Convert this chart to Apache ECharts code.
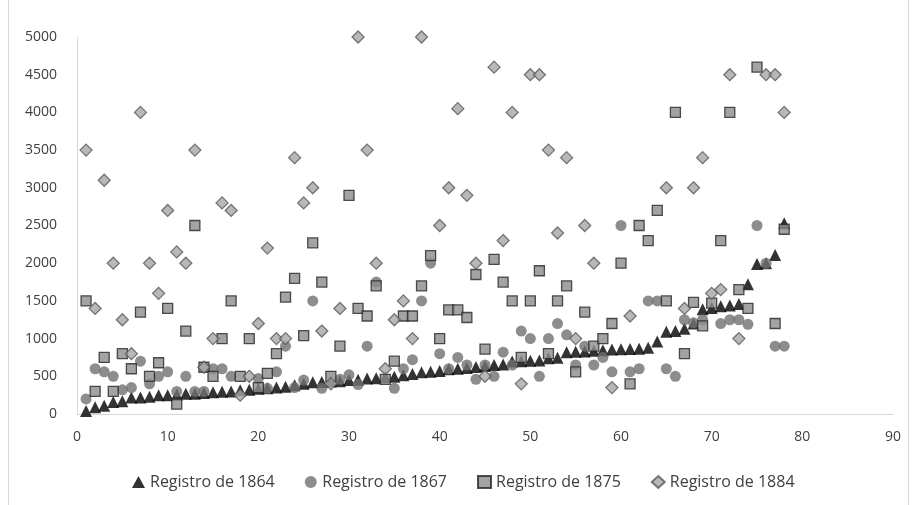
<!DOCTYPE html>
<html>
<head>
<meta charset="utf-8">
<script src="https://cdn.jsdelivr.net/npm/echarts@6/dist/echarts.min.js"></script>
<style>html,body{margin:0;padding:0;background:#fff}#c{width:917px;height:505px}</style>
</head>
<body>
<div id="c"></div>
<script>
// Registro index (x = position 1..78)
const seriesNames = ['Registro de 1864', 'Registro de 1867', 'Registro de 1875', 'Registro de 1884'];

const reg1864 = [40,90,110,160,170,220,220,230,250,250,
  255,270,270,280,290,295,300,315,320,335,
  340,350,360,380,400,420,425,430,435,450,
  455,470,475,490,495,515,530,555,560,570,
  595,600,610,625,635,650,655,695,700,705,
  710,740,745,820,825,830,840,845,855,860,
  862,865,880,960,1090,1100,1130,1200,1390,1405,
  1430,1440,1460,1720,1990,2000,2110,2530];

const reg1867 = [200,600,560,500,320,350,700,400,500,560,
  300,500,300,300,600,600,500,null,null,470,
  340,560,900,350,450,1500,340,null,460,520,
  390,900,1750,null,340,600,720,1500,2000,800,
  600,750,650,460,650,500,820,650,1100,1000,
  500,1000,1200,1050,650,900,650,750,560,2500,
  560,600,1500,1500,600,500,1250,1210,1250,null,
  1200,1250,1250,1190,2500,2000,900,900];

const reg1875 = [1500,300,750,300,800,600,1350,500,680,1400,
  130,1100,2500,620,500,1000,1500,500,1000,350,
  540,800,1550,1800,1040,2270,1750,500,900,2900,
  1400,1300,1700,460,700,1300,1300,1700,2100,1000,
  1380,1380,1280,1850,860,2050,1750,1500,750,1500,
  1900,800,1500,1700,560,1350,900,1000,1200,2000,
  400,2500,2300,2700,1500,4000,800,1480,1170,1470,
  2300,4000,1650,1400,4600,null,1200,2450];

const reg1884 = [3500,1400,3100,2000,1250,800,4000,2000,1600,2700,
  2150,2000,3500,620,1000,2800,2700,250,500,1200,
  2200,1000,1000,3400,2800,3000,1100,400,1400,null,
  5000,3500,2000,600,1250,1500,1000,5000,null,2500,
  3000,4050,2900,2000,500,4600,2300,4000,400,4500,
  4500,3500,2400,3400,1000,2500,2000,null,350,null,
  1300,null,null,null,3000,null,1400,3000,3400,1600,
  1650,4500,1000,null,null,4500,4500,4000];

function pairs(arr) {
  const out = [];
  arr.forEach(function (v, i) { if (v !== null) out.push([i + 1, v]); });
  return out;
}

const chart = echarts.init(document.getElementById('c'), null, {renderer: 'canvas'});
const font = '"Open Sans", Lato, sans-serif';
chart.setOption({
  animation: false,
  backgroundColor: '#fff',
  graphic: [
    {type: 'line', shape: {x1: 8.5, y1: 0, x2: 8.5, y2: 505}, style: {stroke: '#d9d9d9', lineWidth: 1}},
    {type: 'line', shape: {x1: 908.5, y1: 0, x2: 908.5, y2: 505}, style: {stroke: '#d9d9d9', lineWidth: 1}}
  ],
  grid: {left: 77, right: 24, top: 37, bottom: 91, containLabel: false},
  xAxis: {
    type: 'value', min: 0, max: 90, interval: 10,
    axisLine: {show: true, lineStyle: {color: '#d9d9d9', width: 1}},
    axisTick: {show: false},
    splitLine: {show: false},
    axisLabel: {color: '#404040', fontSize: 14, fontFamily: font, margin: 16}
  },
  yAxis: {
    type: 'value', min: 0, max: 5000, interval: 500,
    axisLine: {show: true, lineStyle: {color: '#d9d9d9', width: 1}},
    axisTick: {show: false},
    splitLine: {show: false},
    axisLabel: {color: '#404040', fontSize: 14, fontFamily: font, margin: 20,
      formatter: function (v) { return String(v); }}
  },
  legend: {
    bottom: 10, left: 127, itemGap: 30, itemWidth: 13, itemHeight: 12,
    textStyle: {color: '#404040', fontSize: 16, fontFamily: font},
    data: [
      {name: seriesNames[0], icon: 'triangle'},
      {name: seriesNames[1], icon: 'circle'},
      {name: seriesNames[2], icon: 'rect'},
      {name: seriesNames[3], icon: 'diamond'}
    ]
  },
  series: [
    {name: seriesNames[0], type: 'scatter', symbol: 'triangle', symbolSize: 12,
      itemStyle: {color: '#000000'}, data: pairs(reg1864), z: 2},
    {name: seriesNames[1], type: 'scatter', symbol: 'circle', symbolSize: 11,
      itemStyle: {color: '#707070'}, data: pairs(reg1867), z: 3},
    {name: seriesNames[2], type: 'scatter', symbol: 'rect', symbolSize: 10,
      itemStyle: {color: '#8c8c8c', borderColor: '#262626', borderWidth: 1.3}, data: pairs(reg1875), z: 4},
    {name: seriesNames[3], type: 'scatter', symbol: 'diamond', symbolSize: 12,
      itemStyle: {color: '#a6a6a6', borderColor: '#595959', borderWidth: 1.3}, data: pairs(reg1884), z: 5}
  ]
});
</script>
</body>
</html>
